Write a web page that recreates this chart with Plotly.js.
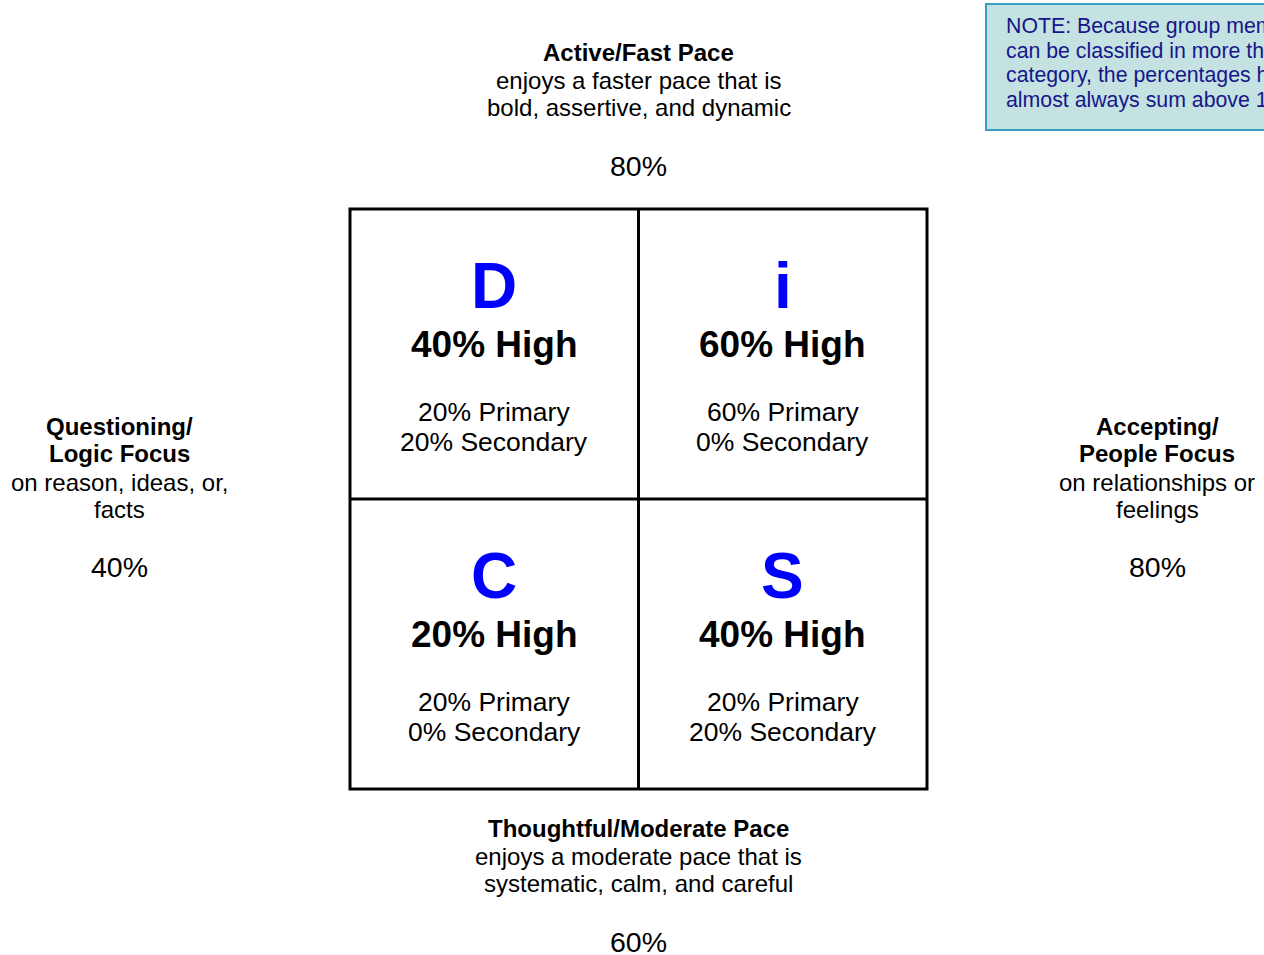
<!DOCTYPE html>
<html>
<head>
<meta charset="utf-8">
<script src="https://cdn.plot.ly/plotly-3.0.1.min.js"></script>
<style>html,body{margin:0;padding:0;background:#fff;}#chart{width:1264px;height:955px;}</style>
</head>
<body>
<div id="chart"></div>
<script>
// ---- data ----
const quadLetters = ['D', 'i', 'C', 'S'];
const highPct = [40, 60, 20, 40];
const primaryPct = [20, 60, 20, 20];
const secondaryPct = [20, 0, 0, 20];

const topTitle = 'Active/Fast Pace';
const topDesc = ['enjoys a faster pace that is', 'bold, assertive, and dynamic'];
const topPct = 80;

const bottomTitle = 'Thoughtful/Moderate Pace';
const bottomDesc = ['enjoys a moderate pace that is', 'systematic, calm, and careful'];
const bottomPct = 60;

const leftTitle = ['Questioning/', 'Logic Focus'];
const leftDesc = ['on reason, ideas, or,', 'facts'];
const leftPct = 40;

const rightTitle = ['Accepting/', 'People Focus'];
const rightDesc = ['on relationships or', 'feelings'];
const rightPct = 80;

const noteLines = ['NOTE: Because group members', 'can be classified in more than one',
  'category, the percentages here will', 'almost always sum above 100%.'];

// ---- layout constants ----
const W = 1264, H = 955;
const FONT = '"Liberation Sans", Arial, Helvetica, sans-serif';
const gx0 = 350, gx1 = 927, gy0 = 209, gy1 = 789;
const gxm = (gx0 + gx1) / 2, gym = (gy0 + gy1) / 2;
const cellW = (gx1 - gx0) / 2, cellH = (gy1 - gy0) / 2;

const ann = [];
function txt(x, y, s, size, opts) {
  opts = opts || {};
  ann.push({
    x: x, y: y, xref: 'x', yref: 'y', text: s, showarrow: false,
    xanchor: opts.xanchor || 'center', yanchor: 'middle',
    font: {family: FONT, size: size, color: opts.color || '#000'}
  });
}
const B = s => '<b>' + s + '</b>';

// quadrants
quadLetters.forEach((L, i) => {
  const col = i % 2, row = Math.floor(i / 2);
  const cx = gx0 + cellW * (col + 0.5);
  const top = gy0 + cellH * row;
  txt(cx, top + 77, B(L), 64, {color: '#0000FF'});
  txt(cx, top + 135, B(highPct[i] + '% High'), 37);
  txt(cx, top + 203, primaryPct[i] + '% Primary', 26.5);
  txt(cx, top + 233, secondaryPct[i] + '% Secondary', 26.5);
});

// top
txt(gxm, 52, B(topTitle), 24);
topDesc.forEach((s, k) => txt(gxm, 80 + 27 * k, s, 24));
txt(gxm, 166, topPct + '%', 28.5);

// bottom
txt(gxm, 828, B(bottomTitle), 24);
bottomDesc.forEach((s, k) => txt(gxm, 856 + 27 * k, s, 24));
txt(gxm, 942, bottomPct + '%', 28.5);

// left
const lx = 119, rx = 1157;
leftTitle.forEach((s, k) => txt(lx, 426 + 27 * k, B(s), 24));
leftDesc.forEach((s, k) => txt(lx, 482 + 27 * k, s, 24));
txt(lx, 567, leftPct + '%', 28.5);

// right
rightTitle.forEach((s, k) => txt(rx, 426 + 27 * k, B(s), 24));
rightDesc.forEach((s, k) => txt(rx, 482 + 27 * k, s, 24));
txt(rx, 567, rightPct + '%', 28.5);

// note
noteLines.forEach((s, k) => txt(1004, 26 + 24.7 * k, s, 21.3, {xanchor: 'left', color: '#16168A'}));

const shapes = [
  {type: 'rect', xref: 'x', yref: 'y', x0: 986, x1: 1400, y0: 4, y1: 130,
   fillcolor: '#C4E2E2', line: {color: '#3A9DC2', width: 2}, layer: 'below'},
  {type: 'rect', xref: 'x', yref: 'y', x0: gx0, x1: gx1, y0: gy0, y1: gy1,
   line: {color: '#000', width: 3}, fillcolor: 'rgba(0,0,0,0)'},
  {type: 'line', xref: 'x', yref: 'y', x0: gxm, x1: gxm, y0: gy0, y1: gy1, line: {color: '#000', width: 3}},
  {type: 'line', xref: 'x', yref: 'y', x0: gx0, x1: gx1, y0: gym, y1: gym, line: {color: '#000', width: 3}}
];

const layout = {
  width: W, height: H,
  margin: {l: 0, r: 0, t: 0, b: 0, pad: 0},
  paper_bgcolor: '#fff', plot_bgcolor: '#fff',
  showlegend: false,
  xaxis: {range: [0, W], visible: false, fixedrange: true},
  yaxis: {range: [H, 0], visible: false, fixedrange: true},
  annotations: ann,
  shapes: shapes
};

Plotly.newPlot('chart', [{x: [], y: [], type: 'scatter', mode: 'markers', hoverinfo: 'skip'}], layout, {staticPlot: true, displayModeBar: false});
</script>
</body>
</html>
